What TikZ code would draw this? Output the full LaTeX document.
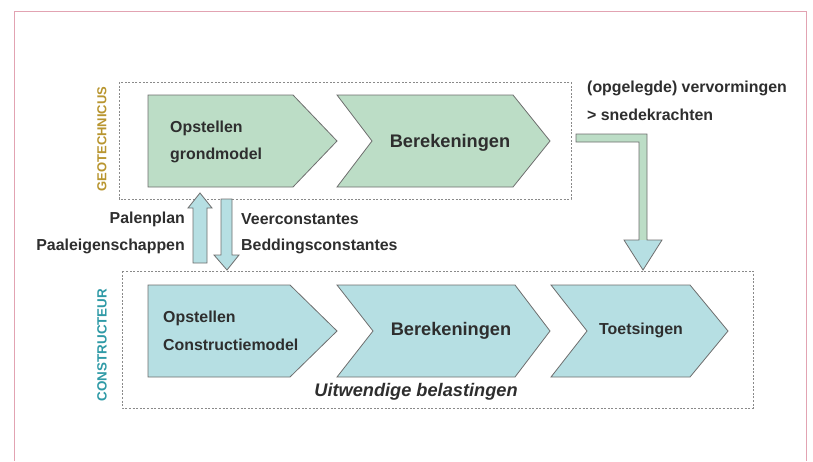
\documentclass[tikz,border=0pt]{standalone}
\usepackage{fontspec}
\setmainfont{Liberation Sans}
\definecolor{gfill}{HTML}{BCDDC6}
\definecolor{bfill}{HTML}{B6DFE3}
\definecolor{edge}{HTML}{6E6E6E}
\definecolor{txt}{HTML}{2E2E2E}
\definecolor{geo}{HTML}{B8952F}
\definecolor{con}{HTML}{2F9AA6}
\definecolor{pinkframe}{HTML}{E2A3B2}
\definecolor{dash}{HTML}{8A8A8A}
\tikzset{
  chev/.style={draw=edge, line width=0.8pt, line join=miter},
  grp/.style={draw=dash, line width=0.9pt, dash pattern=on 2pt off 1.6pt},
  lbl/.style={text=txt, font=\fontsize{15.9}{18}\selectfont\bfseries, inner sep=0pt},
  biglbl/.style={text=txt, font=\fontsize{18.2}{20}\selectfont\bfseries, inner sep=0pt},
  blk/.style={draw=edge, line width=0.8pt, fill=bfill, line join=miter},
}
\begin{document}
\begin{tikzpicture}[x=1pt,y=-1pt]
\useasboundingbox (0,0) rectangle (813,461);
% frame
\draw[pinkframe, line width=0.9pt] (14,461) -- (14,11) -- (806,11) -- (806,461);
% group boxes
\draw[grp] (119,82) rectangle (571,199);
\draw[grp] (122,271) rectangle (753,408);
% side labels
\node[rotate=90, text=geo, font=\fontsize{13}{15}\selectfont\bfseries, inner sep=0pt] (geolbl) at (102,139) {GEOTECHNICUS};
\node[rotate=90, text=con, font=\fontsize{13.4}{15}\selectfont\bfseries, inner sep=0pt] (conlbl) at (102,345) {CONSTRUCTEUR};
% top chevrons
\draw[chev, fill=gfill] (148,95) -- (293,95) -- (337,141) -- (293,187) -- (148,187) -- cycle;
\draw[chev, fill=gfill] (337,95) -- (513,95) -- (550,141) -- (513,187) -- (337,187) -- (372,141) -- cycle;
\node[lbl, anchor=west] (g1a) at (170,128) {Opstellen};
\node[lbl, anchor=west] (g1b) at (170,155) {grondmodel};
\node[biglbl] (g2) at (450,143) {Berekeningen};
% bottom chevrons
\draw[chev, fill=bfill] (148,285) -- (290,285) -- (337,331) -- (290,377) -- (148,377) -- cycle;
\draw[chev, fill=bfill] (337,285) -- (515,285) -- (550,331) -- (515,377) -- (337,377) -- (373,331) -- cycle;
\draw[chev, fill=bfill] (551,285) -- (690,285) -- (728,331) -- (690,377) -- (551,377) -- (587,331) -- cycle;
\node[lbl, anchor=west] (c1a) at (163,318) {Opstellen};
\node[lbl, anchor=west] (c1b) at (163,345) {Constructiemodel};
\node[biglbl] (c2) at (451,331) {Berekeningen};
\node[lbl] (c3) at (641,330) {Toetsingen};
\node[text=txt, font=\fontsize{18.2}{20}\selectfont\bfseries\itshape, inner sep=0pt] (ext) at (416,392) {Uitwendige belastingen};
% vertical block arrows
\draw[blk] (193,263) -- (193,208) -- (188,208) -- (200,193) -- (212,208) -- (207,208) -- (207,263) -- cycle;
\draw[blk] (221,199) -- (232,199) -- (232,255) -- (239,255) -- (227,270) -- (214,255) -- (221,255) -- cycle;
\node[lbl, anchor=east] (pp) at (185,219) {Palenplan};
\node[lbl, anchor=east] (pe) at (185,246) {Paaleigenschappen};
\node[lbl, anchor=west] (vc) at (241,219) {Veerconstantes};
\node[lbl, anchor=west] (bc) at (241,246) {Beddingsconstantes};
% elbow arrow
\fill[gfill] (576,134) -- (647,134) -- (647,240) -- (639,240) -- (639,142) -- (576,142) -- cycle;
\fill[bfill] (624,240) -- (662,240) -- (643,270) -- cycle;
\draw[edge, line width=0.8pt, line join=miter] (576,134) -- (647,134) -- (647,240) -- (662,240) -- (643,270) -- (624,240) -- (639,240) -- (639,142) -- (576,142) -- cycle;
\node[lbl, anchor=west] (vv) at (587,88) {(opgelegde) vervormingen};
\node[lbl, anchor=west] (sk) at (587,115) {> snedekrachten};
\end{tikzpicture}
\end{document}
